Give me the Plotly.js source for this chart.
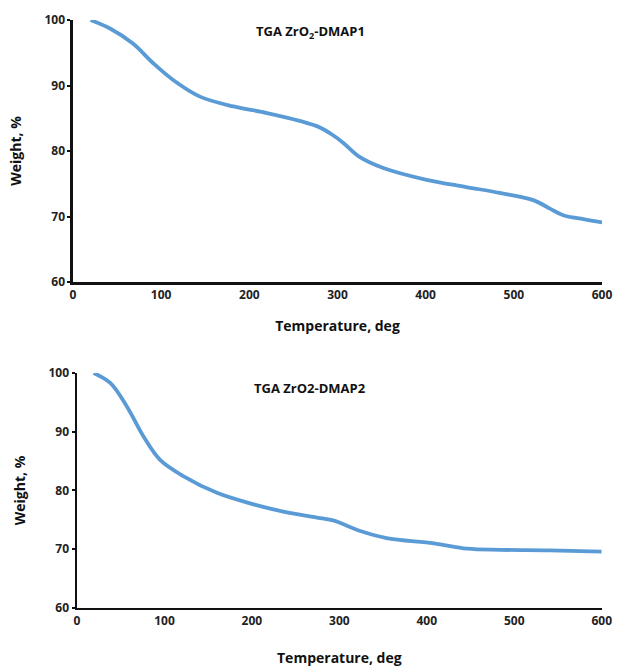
<!DOCTYPE html>
<html><head><meta charset="utf-8">
<script src="https://cdn.plot.ly/plotly-3.0.1.min.js"></script>
<style>html,body{margin:0;padding:0;background:#fff}#c{width:617px;height:667px}</style>
</head><body><div id="c"></div>
<script>
// TGA ZrO2-DMAP1
const temp1 = [20, 42, 68, 91, 114, 144, 182, 220, 257, 280, 295, 307, 325, 352, 401, 446, 484, 522, 541, 556, 579, 600];
const weight1 = [100, 98.7, 96.4, 93.4, 90.8, 88.3, 86.8, 85.8, 84.6, 83.6, 82.4, 81.2, 79.1, 77.4, 75.6, 74.5, 73.6, 72.5, 71.2, 70.2, 69.6, 69.1];
// TGA ZrO2-DMAP2
const temp2 = [19, 38, 57, 76, 95, 122, 160, 198, 236, 278, 293, 324, 354, 408, 446, 484, 540, 600];
const weight2 = [100, 98.3, 94.3, 89.2, 85.2, 82.4, 79.6, 77.8, 76.4, 75.3, 74.9, 73.1, 71.9, 71.0, 70.1, 69.9, 69.8, 69.6];
const xTicks = [0, 100, 200, 300, 400, 500, 600];
const yTicks = [60, 70, 80, 90, 100];
const title1 = "TGA ZrO<sub>2</sub>-DMAP1";
const title2 = "TGA ZrO2-DMAP2";
const xTitle = "Temperature, deg";
const yTitle = "Weight, %";

const lineStyle = {color: '#5b9bd5', width: 3.8, shape: 'spline', smoothing: 1};
const fnt = {family: 'Open Sans, Arial, sans-serif', size: 12, color: '#222', weight: 'bold'};
const tfnt = {family: 'Open Sans, Arial, sans-serif', size: 14, color: '#111', weight: 'bold'};

function xax(dom, anchor, so){ return {domain: dom, anchor: anchor, range: [0, 600], tickvals: xTicks, showgrid: false, zeroline: false,
  showline: true, linecolor: '#111', linewidth: 2.5, ticks: '', tickfont: fnt,
  title: {text: xTitle, font: tfnt, standoff: so}, fixedrange: true}; }
function yax(dom, anchor, so){ return {domain: dom, anchor: anchor, range: [60, 100], tickvals: yTicks, showgrid: false, zeroline: false,
  showline: true, linecolor: '#111', linewidth: 2.5, ticks: 'outside', ticklen: 3, tickcolor: '#111', tickwidth: 2,
  tickfont: fnt,
  title: {text: yTitle, font: tfnt, standoff: so}, fixedrange: true}; }

const data = [
  {x: temp1, y: weight1, type: 'scatter', mode: 'lines', line: lineStyle, xaxis: 'x', yaxis: 'y', hoverinfo: 'skip'},
  {x: temp2, y: weight2, type: 'scatter', mode: 'lines', line: lineStyle, xaxis: 'x2', yaxis: 'y2', hoverinfo: 'skip'}
];
const layout = {
  width: 617, height: 667, showlegend: false,
  paper_bgcolor: '#fff', plot_bgcolor: '#fff',
  margin: {l: 0, r: 0, t: 0, b: 0},
  xaxis: xax([0.1183, 0.9757], 'y', 20),
  yaxis: yax([0.5772, 0.9700], 'x', 20),
  xaxis2: xax([0.1248, 0.9752], 'y2', 28),
  yaxis2: yax([0.0885, 0.4408], 'x2', 20),
  annotations: [
    {text: '<b>' + title1 + '</b>', xref: 'paper', yref: 'paper', x: 0.503, y: 0.952, yanchor: 'middle', showarrow: false, font: {family: 'Open Sans, Arial, sans-serif', size: 13, color: '#111'}},
    {text: '<b>' + title2 + '</b>', xref: 'paper', yref: 'paper', x: 0.503, y: 0.418, yanchor: 'middle', showarrow: false, font: {family: 'Open Sans, Arial, sans-serif', size: 13, color: '#111'}}
  ]
};
Plotly.newPlot('c', data, layout, {staticPlot: true, displayModeBar: false});
</script></body></html>
